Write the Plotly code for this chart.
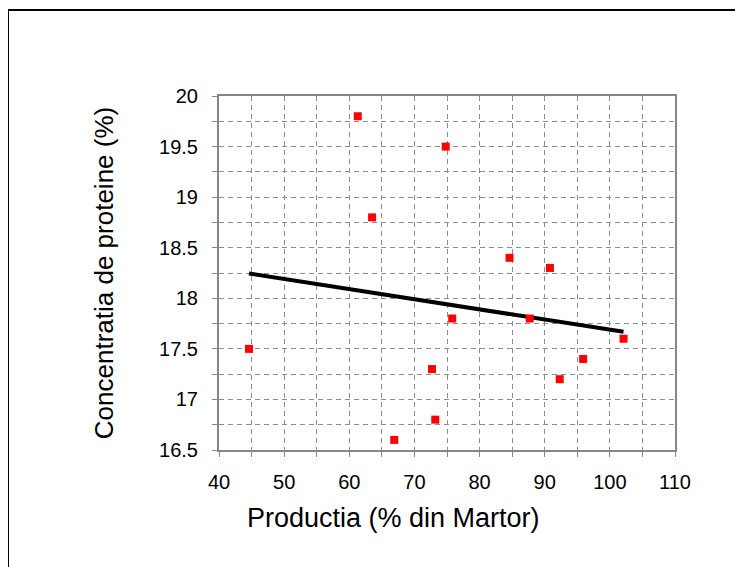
import numpy as np
import plotly.graph_objects as go

productia = [44.6, 61.3, 74.8, 63.5, 84.6, 90.8, 72.7, 73.2, 66.9, 75.8, 87.7, 102.1, 95.9, 92.3]
proteine = [17.5, 19.8, 19.5, 18.8, 18.4, 18.3, 17.3, 16.8, 16.6, 17.8, 17.8, 17.6, 17.4, 17.2]

x_title = "Productia (% din Martor)"
y_title = "Concentratia de proteine (%)"

slope, intercept = np.polyfit(productia, proteine, 1)
trend_x = [min(productia), max(productia)]
trend_y = [slope * v + intercept for v in trend_x]

# page body has an 8px margin, so the figure is offset by (8, 8)
W, H = 735, 559
L, T = 211, 88
pw, ph = 456, 354
R, B = W - L - pw, H - T - ph

fig = go.Figure()
fig.add_trace(go.Scatter(x=trend_x, y=trend_y, mode="lines",
                         line=dict(color="black", width=4), hoverinfo="skip"))
fig.add_trace(go.Scatter(x=productia, y=proteine, mode="markers",
                         marker=dict(symbol="square", color="#ff0000", size=8,
                                     line=dict(width=0))))

font = "Liberation Sans, Arial, sans-serif"
grid_dash = "5px,4px"
fig.update_xaxes(range=[40, 110], dtick=10, tick0=40,
                 showline=True, linecolor="#868686", linewidth=2, mirror=True,
                 showgrid=True, gridcolor="#8c8c8c", gridwidth=1, griddash=grid_dash,
                 ticks="outside", ticklen=5, tickcolor="#868686", tickwidth=1,
                 minor=dict(dtick=5, showgrid=True, gridcolor="#8c8c8c", griddash=grid_dash,
                            ticks="outside", ticklen=5, tickcolor="#868686"),
                 zeroline=False,
                 tickfont=dict(family=font, size=20, color="black"),
                 ticklabelstandoff=8)
fig.update_yaxes(range=[16.5, 20], dtick=0.5, tick0=16.5,
                 showline=True, linecolor="#868686", linewidth=2, mirror=True,
                 showgrid=True, gridcolor="#8c8c8c", gridwidth=1, griddash=grid_dash,
                 ticks="outside", ticklen=5, tickcolor="#868686", tickwidth=1,
                 minor=dict(dtick=0.25, showgrid=True, gridcolor="#8c8c8c", griddash=grid_dash,
                            ticks="outside", ticklen=5, tickcolor="#868686"),
                 zeroline=False,
                 tickfont=dict(family=font, size=20, color="black"),
                 ticklabelstandoff=10,
                 title=dict(text=y_title, font=dict(family=font, size=26, color="black"),
                            standoff=38))

# x-axis title (placed left of the plot centre, as in the reference)
fig.add_annotation(text=x_title, xref="paper", yref="paper",
                   x=(393 - 219) / pw, y=(450 - 518) / ph,
                   xanchor="center", yanchor="middle", showarrow=False,
                   font=dict(family=font, size=27, color="black"))

fig.add_shape(type="rect", xref="paper", yref="paper",
              x0=(0 - L) / pw, x1=(W + 10 - L) / pw,
              y0=-(B + 10) / ph, y1=(ph + T - 2) / ph,
              line=dict(color="black", width=2), fillcolor="rgba(0,0,0,0)", layer="below")

fig.update_layout(width=W, height=H, margin=dict(l=L, r=R, t=T, b=B, autoexpand=False),
                  paper_bgcolor="white", plot_bgcolor="white", showlegend=False)

fig.write_html("out.html")
